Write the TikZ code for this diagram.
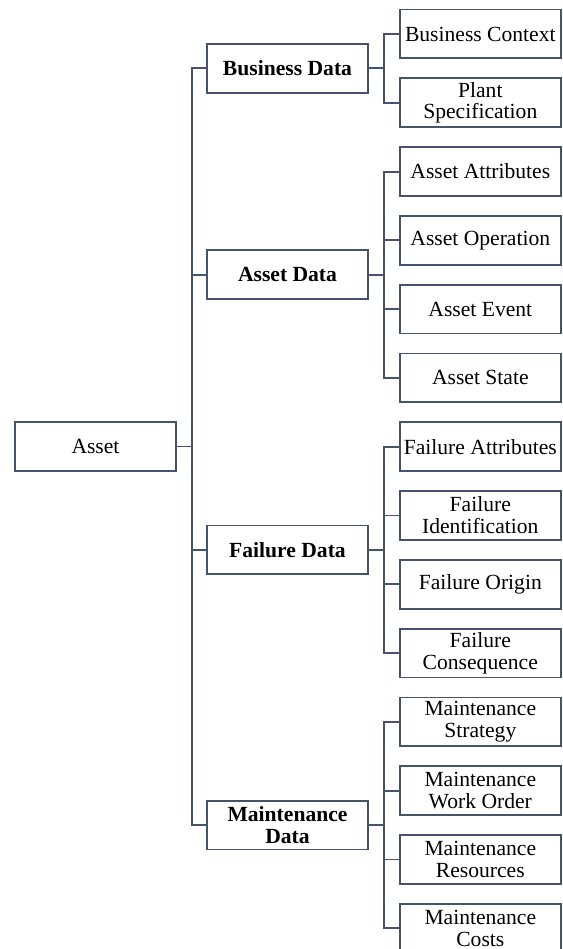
\documentclass[tikz,border=0pt]{standalone}
\usepackage{fontspec}
\setmainfont{Liberation Serif}
\definecolor{linec}{RGB}{68,84,106}
\begin{document}
\begin{tikzpicture}[x=0.75pt,y=-0.75pt,
  box/.style={draw=linec,line width=1.35pt,fill=white,minimum width=120.6pt,minimum height=36.6pt,
    inner sep=0pt,align=center,font=\fontsize{16.2}{16.4}\selectfont},
  lvtwo/.style={box,font=\fontsize{16.2}{16.4}\selectfont\bfseries},
  conn/.style={draw=linec,line width=1.35pt}]
\useasboundingbox (0,0) rectangle (563,949);
% level 3 centres: 34 + 68.78 k
\def\cx{480.3}
\node[box] (bc) at (\cx,34.0) {Business Context};
\node[box] (ps) at (\cx,102.8) {Plant\\Specification};
\node[box] (aa) at (\cx,171.6) {Asset Attributes};
\node[box] (ao) at (\cx,240.3) {Asset Operation};
\node[box] (ae) at (\cx,309.1) {Asset Event};
\node[box] (as) at (\cx,377.9) {Asset State};
\node[box] (fa) at (\cx,446.7) {Failure Attributes};
\node[box] (fi) at (\cx,515.5) {Failure\\Identification};
\node[box] (fo) at (\cx,584.2) {Failure Origin};
\node[box] (fc) at (\cx,653.0) {Failure\\Consequence};
\node[box] (ms) at (\cx,721.8) {Maintenance\\Strategy};
\node[box] (mw) at (\cx,790.6) {Maintenance\\Work Order};
\node[box] (mr) at (\cx,859.4) {Maintenance\\Resources};
\node[box] (mc) at (\cx,928.1) {Maintenance\\Costs};
% level 2
\node[lvtwo] (bd) at (287.5,68.4) {Business Data};
\node[lvtwo] (ad) at (287.5,274.7) {Asset Data};
\node[lvtwo] (fd) at (287.5,549.8) {Failure Data};
\node[lvtwo] (md) at (287.5,825.0) {Maintenance\\Data};
% root
\node[box] (asset) at (95.5,446.5) {Asset};
% connectors
\foreach \c in {bd,ad,fd,md} \draw[conn] (asset.east) -- ++(15.5,0) |- (\c.west);
\foreach \c in {bc,ps} \draw[conn] (bd.east) -- ++(15.5,0) |- (\c.west);
\foreach \c in {aa,ao,ae,as} \draw[conn] (ad.east) -- ++(15.5,0) |- (\c.west);
\foreach \c in {fa,fi,fo,fc} \draw[conn] (fd.east) -- ++(15.5,0) |- (\c.west);
\foreach \c in {ms,mw,mr,mc} \draw[conn] (md.east) -- ++(15.5,0) |- (\c.west);
\end{tikzpicture}
\end{document}
